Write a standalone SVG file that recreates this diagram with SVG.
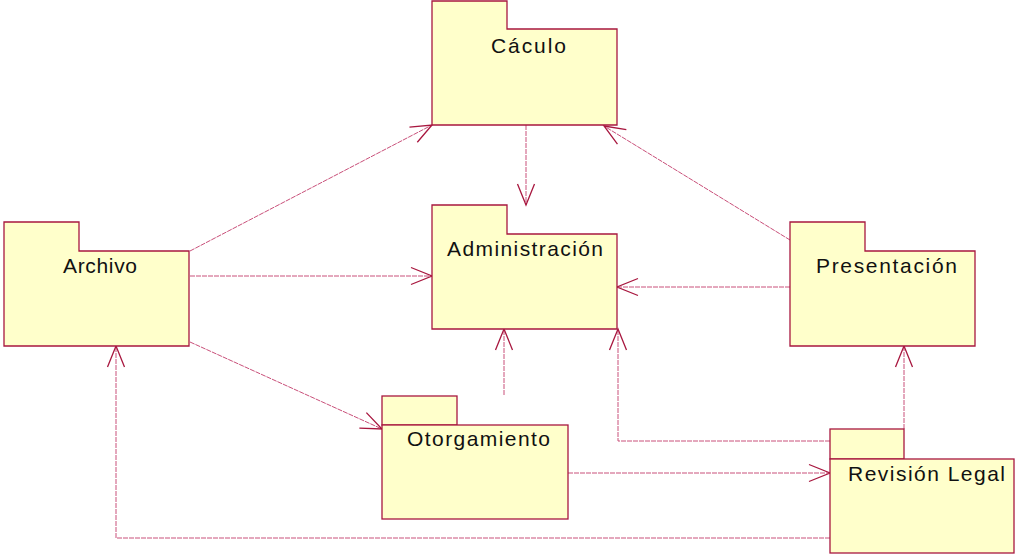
<svg xmlns="http://www.w3.org/2000/svg" width="1015" height="555" viewBox="0 0 1015 555">
<style>
.pkg{fill:#ffffcb;stroke:#a8173f;stroke-width:1.3}
.lbl{font-family:"Liberation Sans",Arial,sans-serif;font-size:21px;fill:#111;text-anchor:middle}
.dep{fill:none;stroke:#c9507a;stroke-width:1;stroke-dasharray:5 1}
</style>
<defs>
<marker id="open" markerUnits="userSpaceOnUse" markerWidth="24" markerHeight="20" viewBox="-22 -10 24 20" refX="0" refY="0" orient="auto">
<path d="M-21,-8.5 L0,0 L-21,8.5" fill="none" stroke="#a8173f" stroke-width="1.3"/>
</marker>
</defs>
<rect width="1015" height="555" fill="#ffffff"/>
<g id="connectors">
<line class="dep" x1="190" y1="251" x2="432" y2="125" marker-end="url(#open)"/>
<line class="dep" x1="526" y1="125" x2="526" y2="205" marker-end="url(#open)"/>
<line class="dep" x1="790" y1="240" x2="604" y2="126" marker-end="url(#open)"/>
<line class="dep" x1="190" y1="276" x2="432" y2="276" marker-end="url(#open)"/>
<line class="dep" x1="790" y1="287" x2="617" y2="287" marker-end="url(#open)"/>
<line class="dep" x1="190" y1="342" x2="382" y2="429" marker-end="url(#open)"/>
<line class="dep" x1="504" y1="395" x2="504" y2="329" marker-end="url(#open)"/>
<polyline class="dep" points="830,441 618,441 618,329" marker-end="url(#open)"/>
<line class="dep" x1="568" y1="473" x2="830" y2="473" marker-end="url(#open)"/>
<line class="dep" x1="904" y1="429" x2="904" y2="346" marker-end="url(#open)"/>
<polyline class="dep" points="830,538 116,538 116,346" marker-end="url(#open)"/>
</g>
<g id="caculo">
<path class="pkg" d="M432,1 H507 V29 H617 V125 H432 Z"/>
<text class="lbl" x="528.5" y="53" textLength="75" lengthAdjust="spacing">Cáculo</text>
</g>
<g id="archivo">
<path class="pkg" d="M4,222 H79 V251 H189 V346 H4 Z"/>
<text class="lbl" x="100" y="273" textLength="74" lengthAdjust="spacing">Archivo</text>
</g>
<g id="administracion">
<path class="pkg" d="M432,205 H507 V234 H617 V329 H432 Z"/>
<text class="lbl" x="525" y="256" textLength="156" lengthAdjust="spacing">Administración</text>
</g>
<g id="presentacion">
<path class="pkg" d="M790,222 H865 V251 H975 V346 H790 Z"/>
<text class="lbl" x="886.5" y="273" textLength="141" lengthAdjust="spacing">Presentación</text>
</g>
<g id="otorgamiento">
<rect class="pkg" x="382" y="396" width="75" height="29"/>
<rect class="pkg" x="382" y="425" width="186" height="94"/>
<text class="lbl" x="478.5" y="446" textLength="143" lengthAdjust="spacing">Otorgamiento</text>
</g>
<g id="revision-legal">
<rect class="pkg" x="830" y="429" width="74" height="30"/>
<rect class="pkg" x="830" y="459" width="184" height="94"/>
<text class="lbl" x="926.5" y="481" textLength="157" lengthAdjust="spacing">Revisión Legal</text>
</g>
</svg>
